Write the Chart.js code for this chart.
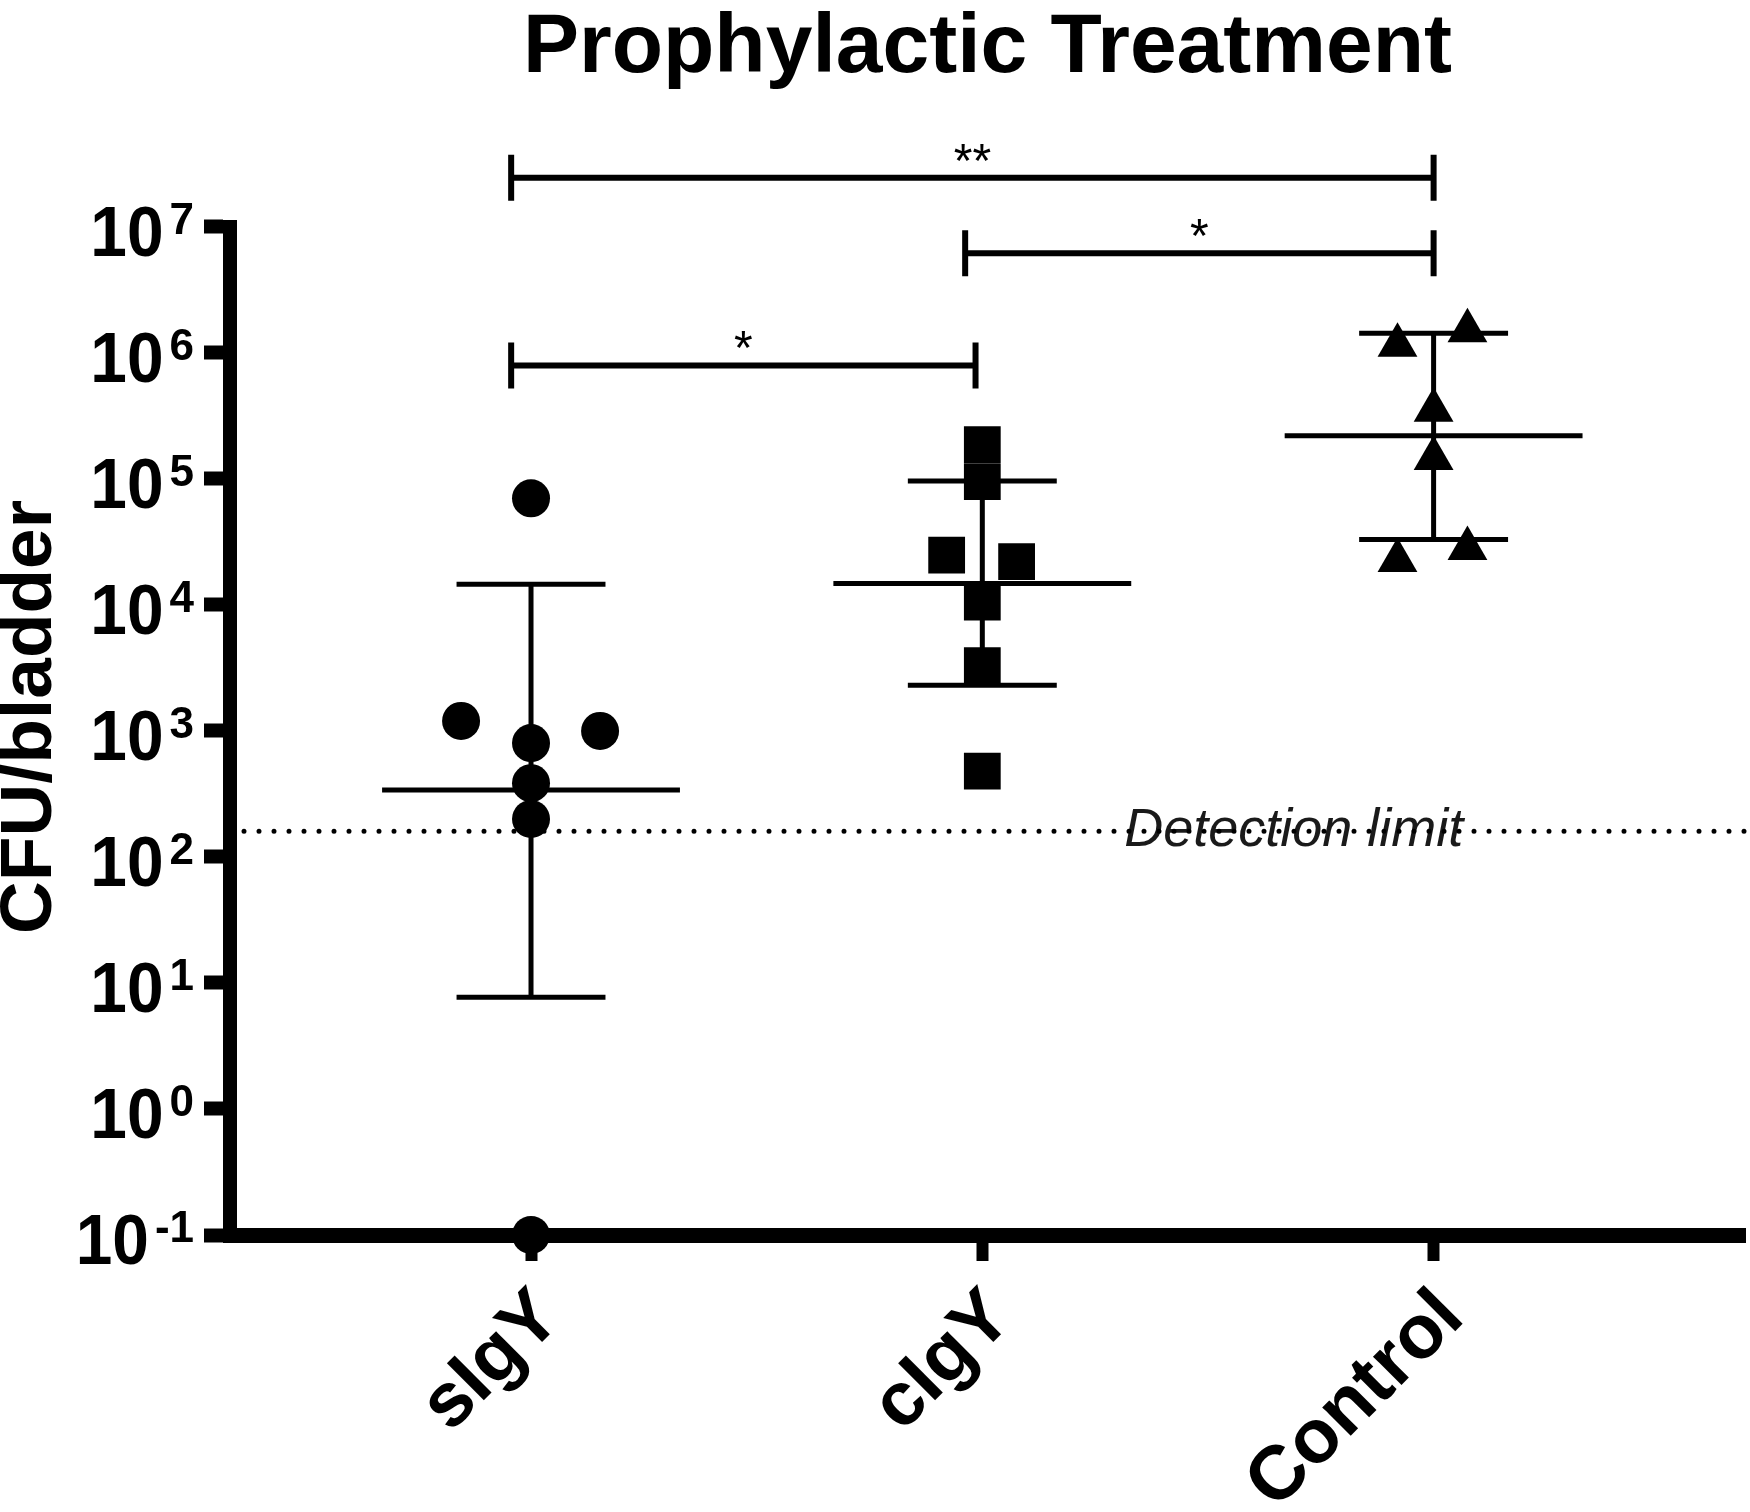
<!DOCTYPE html>
<html>
<head>
<meta charset="utf-8">
<title>Prophylactic Treatment</title>
<script src="https://cdn.jsdelivr.net/npm/chart.js@4.4.1/dist/chart.umd.min.js"></script>
<style>
  html, body { margin: 0; padding: 0; background: #fff; }
</style>
</head>
<body>
<canvas id="cfuChart" width="1750" height="1512"></canvas>
<script>
const groups = ['sIgY', 'cIgY', 'Control'];

// CFU/bladder per animal (0.1 = sits on the axis)
const sIgYValues = [70000, 1200, 1000, 800, 385, 200, 0.1];
const sIgYJitter = [0, -0.155, 0.153, 0, 0, 0, 0];
const cIgYValues = [187000, 95000, 24800, 22000, 10500, 3300, 480];
const cIgYJitter = [0, 0, -0.079, 0.076, 0, 0, 0];
const controlValues = [1500000, 1150000, 350000, 145000, 28000, 22500];
const controlJitter = [0.075, -0.08, 0, 0, 0.075, -0.08];

// mean line and error bar ends per group
const groupMeans = [340, 14800, 220000];
const sdUpper = [14600, 96000, 1430000];
const sdLower = [7.7, 2300, 33000];

const detectionLimit = 160;

const yTickExponents = [-1, 0, 1, 2, 3, 4, 5, 6, 7];

// significance brackets (x in group units, height as log10)
const sigFrom = [0.956, 1.962, 0.956];
const sigTo = [3, 3, 1.985];
const sigLevel = [7.39, 6.79, 5.9];
const sigLabels = ['**', '*', '*'];

const FONT = '"Liberation Sans", Arial, Helvetica, sans-serif';

function points(values, jitter, pos) {
    return values.map((v, i) => ({ x: pos + jitter[i], y: v }));
}

const annotate = {
    id: 'annotate',
    afterDatasetsDraw(chart) {
        const { ctx, chartArea, scales: { x, y } } = chart;
        ctx.save();
        ctx.strokeStyle = '#000';
        ctx.fillStyle = '#000';

        // mean +/- SD
        ctx.lineWidth = 5;
        ctx.lineCap = 'butt';
        groups.forEach((g, i) => {
            const cx = i + 1;
            const px = x.getPixelForValue(cx);
            const yTop = y.getPixelForValue(sdUpper[i]);
            const yBot = y.getPixelForValue(sdLower[i]);
            const yMean = y.getPixelForValue(groupMeans[i]);
            ctx.beginPath();
            ctx.moveTo(px, yTop);
            ctx.lineTo(px, yBot);
            ctx.moveTo(x.getPixelForValue(cx - 0.165), yTop);
            ctx.lineTo(x.getPixelForValue(cx + 0.165), yTop);
            ctx.moveTo(x.getPixelForValue(cx - 0.165), yBot);
            ctx.lineTo(x.getPixelForValue(cx + 0.165), yBot);
            ctx.moveTo(x.getPixelForValue(cx - 0.33), yMean);
            ctx.lineTo(x.getPixelForValue(cx + 0.33), yMean);
            ctx.stroke();
        });

        // detection limit
        const yd = y.getPixelForValue(detectionLimit);
        ctx.font = 'italic 54px ' + FONT;
        ctx.fillStyle = '#1a1a1a';
        ctx.textAlign = 'center';
        ctx.textBaseline = 'middle';
        ctx.fillText('Detection limit', x.getPixelForValue(2.69), yd);
        ctx.setLineDash([0, 15]);
        ctx.lineCap = 'round';
        ctx.lineWidth = 5;
        ctx.beginPath();
        ctx.moveTo(chartArea.left + 14, yd);
        ctx.lineTo(chartArea.right, yd);
        ctx.stroke();
        ctx.setLineDash([]);
        ctx.lineCap = 'butt';
        ctx.fillStyle = '#000';

        // significance brackets
        sigLabels.forEach((lab, i) => {
            const x1 = x.getPixelForValue(sigFrom[i]);
            const x2 = x.getPixelForValue(sigTo[i]);
            const by = y.getPixelForValue(10 ** sigLevel[i]);
            ctx.lineWidth = 6;
            ctx.beginPath();
            ctx.moveTo(x1, by);
            ctx.lineTo(x2, by);
            ctx.moveTo(x1, by - 23);
            ctx.lineTo(x1, by + 23);
            ctx.moveTo(x2, by - 23);
            ctx.lineTo(x2, by + 23);
            ctx.stroke();
            ctx.font = '48px ' + FONT;
            ctx.textAlign = 'center';
            ctx.textBaseline = 'alphabetic';
            ctx.fillText(lab, (x1 + x2) / 2, by - 1);
        });

        // y tick labels as powers of ten
        yTickExponents.forEach(e => {
            const py = y.getPixelForValue(10 ** e);
            const xr = chartArea.left - 36;
            const sup = String(e);
            ctx.font = 'bold 44px ' + FONT;
            ctx.textAlign = 'right';
            ctx.textBaseline = 'alphabetic';
            ctx.fillText(sup, xr, py + 7);
            const w = ctx.measureText(sup).width;
            ctx.save();
            ctx.translate(xr - w - 6, py + 29);
            ctx.scale(0.94, 1);
            ctx.font = 'bold 70px ' + FONT;
            ctx.fillText('10', 0, 0);
            ctx.restore();
        });

        // y axis title
        ctx.save();
        ctx.translate(31, (chartArea.top + chartArea.bottom) / 2 - 14);
        ctx.rotate(-Math.PI / 2);
        ctx.font = 'bold 73px ' + FONT;
        ctx.textAlign = 'center';
        ctx.textBaseline = 'middle';
        ctx.fillText('CFU/bladder', 0, 0);
        ctx.restore();

        ctx.restore();
    }
};

const markerBase = { backgroundColor: '#000', borderWidth: 0, clip: false };

const ctx = document.getElementById('cfuChart').getContext('2d');
const cfuChart = new Chart(ctx, {
    type: 'scatter',
    data: {
        datasets: [
            Object.assign({ label: 'sIgY', data: points(sIgYValues, sIgYJitter, 1), pointStyle: 'circle', pointRadius: 19 }, markerBase),
            Object.assign({ label: 'cIgY', data: points(cIgYValues, cIgYJitter, 2), pointStyle: 'rect', pointRadius: 26 }, markerBase),
            Object.assign({ label: 'Control', data: points(controlValues, controlJitter, 3), pointStyle: 'triangle', pointRadius: 23 }, markerBase)
        ]
    },
    options: {
        responsive: false,
        animation: false,
        devicePixelRatio: 1,
        events: [],
        layout: { autoPadding: false, padding: { top: 0, right: 5, bottom: 0, left: 0 } },
        plugins: {
            legend: { display: false },
            tooltip: { enabled: false },
            title: {
                display: true,
                text: 'Prophylactic Treatment',
                fullSize: false,
                color: '#000',
                font: { family: FONT, size: 84, weight: 'bold', lineHeight: 0.95 },
                padding: { top: 9, bottom: 138 }
            }
        },
        scales: {
            x: {
                type: 'linear',
                min: 0.333,
                max: 3.69,
                afterBuildTicks: s => { s.ticks = groups.map((g, i) => ({ value: i + 1 })); },
                afterFit: s => { s.height = 277; s.paddingLeft = 0; s.paddingRight = 0; },
                ticks: {
                    autoSkip: false,
                    minRotation: 45,
                    maxRotation: 45,
                    padding: 12,
                    labelOffset: 18,
                    color: '#000',
                    font: { family: FONT, size: 76, weight: 'bold' },
                    callback: v => groups[Math.round(v) - 1]
                },
                grid: { display: true, drawOnChartArea: false, drawTicks: true, tickLength: 26, tickWidth: 12, tickColor: '#000' },
                border: { display: true, width: 15, color: '#000' }
            },
            y: {
                type: 'logarithmic',
                min: 0.1,
                max: 1e7,
                afterBuildTicks: s => { s.ticks = yTickExponents.map(e => ({ value: 10 ** e })); },
                afterFit: s => { s.width = 230; s.paddingTop = 0; s.paddingBottom = 0; },
                ticks: { display: false },
                grid: { display: true, drawOnChartArea: false, drawTicks: true, tickLength: 26, tickWidth: 14, tickColor: '#000' },
                border: { display: true, width: 14, color: '#000' }
            }
        }
    },
    plugins: [annotate]
});
</script>
</body>
</html>
